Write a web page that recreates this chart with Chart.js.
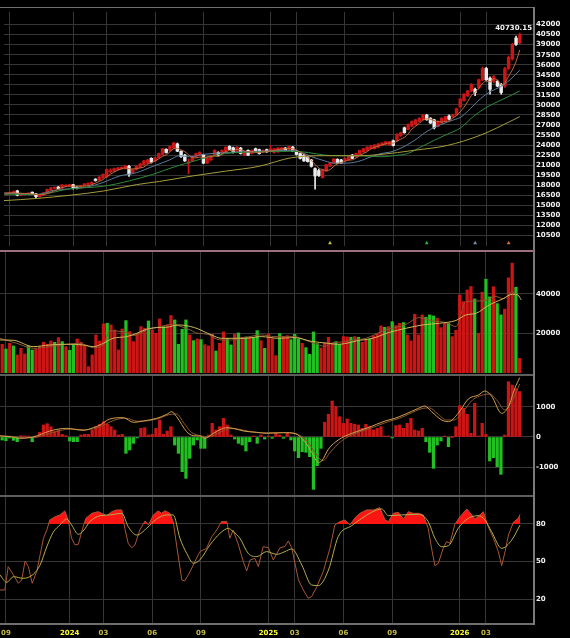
<!DOCTYPE html>
<html><head><meta charset="utf-8">
<script src="https://cdn.jsdelivr.net/npm/chart.js@4.4.1/dist/chart.umd.min.js"></script>
<style>
html,body{margin:0;padding:0;background:#000;}
body{width:570px;height:638px;position:relative;overflow:hidden;}
canvas{position:absolute;left:0;}
.sep{position:absolute;left:0;width:534px;}
</style></head><body>
<canvas id="c1" width="570" height="242" style="top:8px"></canvas>
<canvas id="c2" width="570" height="121" style="top:252px"></canvas>
<canvas id="c3" width="570" height="119" style="top:376px"></canvas>
<canvas id="c4" width="570" height="141" style="top:497px"></canvas>
<div class="sep" style="top:7px;height:1px;background:#6e6e6e"></div>
<div class="sep" style="top:250px;height:2px;background:#9c7080"></div>
<div class="sep" style="top:374px;height:2px;background:#5e5e5e"></div>
<div class="sep" style="top:495px;height:2px;background:#5e5e5e"></div>
<div class="sep" style="top:623px;height:2px;background:#6e6e6e"></div>
<div style="position:absolute;left:533px;top:7px;width:1.5px;height:618px;background:#7a7a7a"></div>
<script>
// ---- time axis (weekly bars, index k) ----
const gridK = [1, 18, 27, 40, 53, 71, 78, 91, 104, 122, 129];
const monthLabels = ['09','2024','03','06','09','2025','03','06','09','2026','03'];

// ---- weekly OHLC ----
const open = [16650,16800,16840,17150,16500,16620,16680,16950,16700,16280,
16480,16840,17250,17560,17720,17560,17850,17870,18080,17700,
17600,17900,18100,18180,18900,18750,19140,19230,20000,20100,
20340,20430,20480,20820,19860,20340,20670,21050,21300,22010,
21630,22110,22590,23360,23210,23550,24170,23070,22490,21300,
21630,22250,22490,22490,21290,21770,22490,22880,22730,22970,
23790,23600,22970,23550,22490,23210,22730,23450,23310,22970,
23310,23070,22880,22970,23210,23550,23210,23690,23070,22730,
22490,22200,21770,20480,20190,19140,20100,20820,21300,21870,
21770,21630,21770,22490,22250,22590,22970,23210,23450,23450,
23690,23930,24120,24030,24650,24650,25370,26570,26330,26810,
27050,27530,27770,28480,28000,27770,26810,27290,27530,28340,
28250,28480,29680,30640,31360,32080,32320,32560,33760,35430,
34000,33520,33520,33040,32800,35430,36870,39990,39270];
const high = [16900,16950,17150,17250,16800,16760,16850,17000,16750,16550,
16900,17400,17650,17720,17800,18080,18080,18150,18120,17800,
18000,18250,18350,18500,18980,19300,19700,20400,20450,20550,
20650,20750,21000,20950,20400,20900,21250,21700,21850,22100,
22200,22800,23500,23450,23850,24420,24300,23150,22600,21900,
22300,22800,23000,22600,22100,22450,23300,23000,23300,23750,
23900,23700,23750,23650,23050,23300,23300,23550,23400,23300,
23400,23930,23500,23600,23650,23650,23850,23800,23150,22800,
22600,22300,21850,20600,20400,20400,21100,21350,22000,21950,
21850,22100,22300,22600,22800,23250,23500,23750,23950,24050,
24200,24350,24550,24550,24750,25700,25950,26700,27150,27600,
27850,28100,28550,28600,28100,27850,27600,28100,28300,28500,
28600,29500,30950,31700,32200,33200,32500,33850,35670,35600,
34200,34400,33700,33200,35600,37300,39200,40300,40730.15];
const low = [16550,16700,16780,16400,16450,16550,16600,16700,16100,16200,
16450,16800,17200,17450,17450,17500,17800,17800,17400,17450,
17550,17850,18050,18100,18600,18700,19050,19200,19800,20050,
20250,20400,20400,19300,19800,20250,20600,21000,21200,21300,
21550,22050,22500,22800,23100,23450,23000,22150,21550,19700,
21550,22150,22400,21200,21200,21700,22400,22400,22650,22900,
23300,22800,22900,22650,22400,22400,22650,23000,22650,22900,
22900,23000,22800,22900,23150,23100,23150,23000,22500,21900,
21550,21450,20700,17400,19300,19050,20050,20750,21250,21200,
21200,21550,21700,21950,22200,22500,22900,23150,23400,23400,
23600,23850,24050,23950,23850,24550,25300,25750,26250,26700,
26950,27450,27700,27700,27200,26400,26700,27200,27450,27800,
28150,28400,29600,30550,31250,31950,31360,32400,33600,33600,
31600,33300,32700,31600,32600,35300,36700,38900,39100];
const close = [16800,16840,17050,16500,16740,16680,16760,16720,16280,16480,
16840,17360,17600,17650,17500,18050,18000,18080,17600,17550,
17940,18180,18280,18420,18700,19230,19620,20340,20200,20480,
20580,20670,20910,19620,20340,20820,21150,21630,21770,21440,
22110,22730,23450,22880,23790,24320,23070,22250,21630,21500,
22250,22730,22880,21290,22010,22400,23210,22490,23210,23690,
23360,22880,23690,22730,22970,22490,23210,23070,22730,23210,
22970,23450,23450,23550,23550,23210,23790,23070,22590,22010,
21630,21530,20820,19380,19450,20340,21060,21300,21920,21300,
21300,22010,22250,22010,22730,23210,23450,23690,23930,24030,
24170,24310,24500,24500,23930,25600,25850,25850,27050,27530,
27770,28000,28480,27770,27290,26570,27530,28000,28250,27860,
28480,29440,30880,31600,32080,33040,31840,33760,35430,33760,
32320,34240,32800,31840,35430,37110,39030,39030,40500];

// moving averages: [k, value]
const ma13Pts = [[-0.6,16840],[8.3,16600],[12.7,17220],[17.2,17460],[21.6,17700],[26.1,18420],[30.5,19380],[35,19860],[39.4,20815],[43.9,21770],[46.5,22400],[49.2,22250],[53,22600],[59,22880],[67.9,23070],[76.7,23210],[79.4,22880],[82.1,22250],[85.6,21630],[88.3,21290],[91,21290],[94.5,21530],[98.1,22250],[100.7,22730],[103.4,22970],[106.1,23550],[109.6,24650],[113.2,26090],[116.8,27050],[120.3,27770],[122.1,28150],[123.9,29000],[127.4,30900],[130.1,32000],[132.7,32660],[135.4,33760],[138,35190]];
const ma26Pts = [[-0.6,16650],[8.3,16600],[17.2,17460],[26.1,17840],[33.2,18660],[39.4,19620],[45.6,20815],[50.1,21530],[54.5,22250],[59,22730],[67.9,22970],[76.7,23070],[81.2,22880],[85.6,22490],[90.1,22400],[94.5,22400],[100.7,22250],[105.2,22490],[107.9,22730],[111.4,23700],[115,24700],[118.5,25610],[122.1,26570],[125.6,28300],[129.2,29680],[132.7,30640],[135.4,31360],[138,32080]];
const ma52Pts = [[-0.6,15690],[8.3,16020],[17.2,16500],[26.1,17125],[35,18080],[41.2,18560],[50.1,19380],[59,20100],[67.9,20815],[76.7,22110],[85.6,22400],[94.5,22400],[100.7,22590],[109.6,23210],[118.5,23930],[127.4,25460],[131.9,26570],[138,28245]];
const markPts = [[87,'#c8c040'],[113,'#30b030'],[126,'#7090b0'],[135,'#d07030']];

// ---- volume ----
const volume = [14490,12120,14980,13640,9090,12460,9600,13640,11620,12120,
13300,15490,14490,16160,15490,17850,15830,13300,11450,14140,
17170,15490,13800,3200,9090,19190,16160,24745,25080,24240,
21715,11620,22220,26430,20870,15830,20030,23400,22560,26260,
21715,20030,27270,23400,24240,28960,26765,14490,22060,26765,
19190,16330,17170,16830,14310,13640,19530,11110,14980,20700,
17510,14140,19530,20200,18010,18180,18010,17850,21380,16330,
12460,19700,17340,8750,19870,18350,18850,16830,19530,17170,
14980,12790,9430,20700,14820,12630,15150,18010,15150,15830,
14490,18350,18180,18010,18350,18030,15500,16665,17170,18685,
19700,23735,23060,23400,25900,23900,25080,25420,19190,16160,
29640,19190,29290,28130,29290,28790,27620,22880,25080,25080,
18350,21550,39390,36010,41900,43600,37370,20030,40740,47300,
38400,43500,35000,29290,32200,48000,55400,43270,7410];
const volDir = 'rgrgrrrggr'+'rrrrgrgrgg'+'rrrrrrrrgr'+'rrrgrrrrrg'+'rrrgrrgggg'+'rgrgrrrgrr'+'ggrgrgrggr'+'grrrgrrggg'+'rggggrrrrg'+'grrgrgrrgr'+'rrgrgrrgrr'+'rrrgggrrrg'+'rrrrrrgrrg'+'grggrrrgr';
const volMaSlow = [[-0.6,16665],[3,16500],[8.3,13300],[12.7,14140],[17.2,14500],[21.6,14140],[24.3,13300],[27,14980],[29.6,17510],[33.2,18350],[35.9,20030],[38.5,22060],[41.2,22900],[43.9,23070],[46.9,24240],[51.3,22900],[55.8,19190],[58.4,17510],[64.7,17510],[69.1,18350],[73.6,17510],[78,17850],[82.4,15990],[86.9,14980],[89.5,14480],[93.1,15490],[94.4,16160],[98.8,17500],[103.2,20470],[107.7,22560],[112.1,24240],[116.6,25080],[121,26500],[123.7,29300],[126.4,30130],[129.9,34340],[133.5,37370],[136.1,39730],[137.5,39390],[138.4,36870]];
const volMaFast = [[-0.6,17500],[3.9,14980],[8.3,12460],[12.7,13300],[17.2,14480],[20.7,14980],[24.3,12800],[27,14140],[28.7,21210],[32.3,20870],[35,18860],[38.5,21715],[42.1,23400],[45.6,24570],[46.9,23900],[49.5,22230],[52.2,20030],[54.9,19530],[56.7,17510],[58.4,16665],[61.1,16665],[64.7,17850],[69.1,19190],[72.7,18350],[75.3,18350],[78,18350],[80.7,16665],[84.2,14310],[86,13470],[87.8,14980],[91.3,15820],[94,16665],[97,17500],[101.5,21210],[107.7,24580],[111.2,27950],[114.8,26260],[118.4,25420],[121,23400],[123.7,36010],[128.1,36350],[131.7,38560],[133.5,37500],[136.1,40760],[137.9,38560]];

// ---- MACD ----
const macdHist = [-99,-121,-20,-110,-154,44,33,10,-154,5,
154,396,440,341,176,231,88,44,-132,-154,
-154,66,88,88,231,341,418,506,418,341,
231,66,88,-539,-429,-209,-22,286,308,66,
88,286,561,88,198,341,-264,-539,-1144,-1364,
-704,-264,-99,-374,-374,66,451,231,341,616,
396,66,-66,-209,-264,-462,-154,33,-209,66,
-66,22,-44,121,66,-44,154,-99,-462,-682,
-484,-506,-649,-1727,-946,-374,484,748,1188,1001,
671,451,594,451,418,396,286,418,341,231,
286,341,33,33,-22,374,396,286,451,616,
231,198,286,-154,-506,-1034,-264,-132,11,-319,
0,341,1034,946,748,121,1111,33,451,88,
-792,-682,-979,-1232,66,1826,1716,1600,1500];
const difPts = [[-0.6,33],[2.1,10],[4.7,-44],[7.4,-20],[9.2,33],[12.7,198],[17.2,286],[21.6,220],[24.3,308],[26.1,396],[28.7,594],[32.3,638],[35,484],[37.6,528],[41.2,616],[43.9,748],[45.2,836],[46.5,671],[49.2,176],[51,44],[52.7,33],[54.1,-44],[56.3,121],[59.9,308],[61.6,286],[64.3,198],[67.9,154],[70.5,121],[75,140],[78.1,110],[80.7,-154],[82.5,-500],[84.3,-836],[85.2,-790],[87,-400],[89.6,-99],[93.2,120],[97.6,308],[102.1,528],[104.7,616],[107.4,748],[111,946],[112.7,1023],[114.5,836],[117.2,561],[119,506],[121.6,781],[124.3,1254],[127,1386],[128.7,1518],[130.5,1353],[133.2,781],[135,1001],[136.7,1606],[138,1958]];
const deaPts = [[-0.6,40],[3,15],[6,-25],[9.5,0],[13.5,150],[18,260],[22,240],[25,290],[27.5,420],[30,560],[33,620],[36,520],[39,540],[42,620],[44.5,740],[46.5,760],[48.5,450],[50.5,150],[53,40],[55,0],[57.5,120],[61,280],[63,260],[66,180],[69.5,140],[75.5,150],[79,80],[81.5,-160],[83.5,-520],[85.5,-780],[87.5,-500],[90.5,-130],[94,110],[98.5,300],[103,510],[106,620],[108.5,760],[112,940],[114,960],[116,780],[118.5,560],[120.5,560],[123,860],[125.5,1230],[128,1380],[130,1420],[132,1200],[134,900],[135.8,1150],[137.5,1600],[138,1750]];

// ---- KD ----
const kPts = [[-0.6,27.4],[0.7,27.4],[1.6,46],[3,39.4],[4.3,32.7],[5.2,35.4],[6.1,50.5],[7,46],[8,32.7],[9.2,42],[11,68.6],[11.9,75.2],[12.7,83.2],[14.1,85.8],[15.4,87.2],[16.7,90.4],[17.6,83.2],[18.5,68.6],[19.4,63.3],[20.3,63.8],[21.2,73.9],[22.3,84.5],[23.9,88.5],[25.6,89.8],[26.5,88.5],[27.9,86.6],[29.2,89.8],[30.5,91.2],[31.9,91.2],[32.7,76.5],[33.6,64.6],[34.5,61.1],[35.4,63.2],[36.7,75.2],[38.1,82.4],[39,79.2],[40.3,87.2],[41.6,90.4],[42.5,88.5],[43.4,90.6],[44.7,88.5],[45.6,81.9],[46.5,63.3],[47.9,35.4],[48.7,34.6],[50.1,42],[51.4,50],[52.7,58],[54.5,60.6],[55.9,69.9],[57.2,75.2],[58.5,81.9],[59.9,81.9],[60.7,68.6],[61.6,75.2],[63,63.3],[64.3,50],[65.2,42.5],[66.1,51.3],[67.4,52.6],[68.3,46],[69.6,62],[71,61.1],[72.3,51.3],[74.1,61.1],[75.4,62],[76.3,66.5],[77.2,61.1],[79,35.4],[80.3,27.4],[81.6,20.8],[82.5,22.1],[83.9,30],[85.6,42],[87.4,60.6],[88.7,79.2],[90.1,81.9],[91.4,83.2],[92.7,79.2],[94.1,85],[95.4,88.5],[97.2,91.2],[99,91.2],[100.7,93],[102.1,83.2],[103,81.9],[104.3,88.5],[105.6,89.3],[107,84],[108.3,89.8],[109.6,88.5],[111,88.5],[112.3,87.2],[113.6,76.5],[114.5,60.6],[115.4,46.8],[116.3,48.7],[117.6,60.6],[118.5,65.9],[119.4,64.6],[120.7,79.7],[122.1,85.8],[123.9,92],[125.2,87.2],[126.1,84],[127.4,87.2],[128.3,89.8],[129.6,77.9],[131,68.6],[132.3,58],[133.2,46.8],[134.1,58],[135,71.2],[136.3,81.3],[137.6,84.5],[138.1,87.7]];
const dPts = [[-0.6,39.4],[1.2,33.5],[3,38],[5.6,36.7],[8.3,39.9],[10.1,47.3],[11.9,61.9],[13.6,73.4],[15.4,79.2],[17.2,84],[18.5,79.2],[20.3,71.8],[21.6,74.4],[23.4,81.9],[26.1,86.6],[28.7,87.2],[31.9,88.5],[33.6,77.9],[35.9,71.2],[38.5,76.5],[41.2,84],[43.9,87.2],[45.6,87.2],[47.4,68.6],[49.2,56.6],[51,48.7],[52.7,51.3],[55.4,63.3],[58.1,72.6],[60.3,76.5],[61.6,73.9],[63.4,68.6],[65.6,56.6],[67.9,54],[70.5,58],[73.2,55.8],[75.4,58],[77.2,60.1],[79.9,47.3],[82.5,31.4],[84.3,30.9],[87,43.3],[89.6,69.9],[93.2,78.7],[95.9,84.5],[98.5,89.3],[101.2,92],[103,86.6],[106.5,87.2],[111,87.7],[113.6,81.9],[115.4,68.6],[117.2,61.9],[119,62.7],[121.6,76.5],[124.3,84.5],[127,86.6],[128.7,83.2],[130.5,73.9],[133.2,60.6],[135.9,67.3],[138.1,79.2]];

// ================= rendering =================
const XMIN = -0.587, XMAX = 141.55;
const FONT = {family:'DejaVu Sans', size:7, weight:'bold'};
const RED = '#cc1616', GREEN = '#22c022', WHITE = '#ececec', GRID = '#363636';
const pts = a => a.map(([x,y]) => ({x, y}));
const idx = a => a.map((_, i) => i);
const noPad = ax => { ax.paddingTop = 0; ax.paddingBottom = 0; ax.paddingLeft = 0; ax.paddingRight = 0; };

function xAxis(labels){
  return {
    type:'linear', min:XMIN, max:XMAX, offset:false,
    grid:{color:GRID, drawTicks:false, offset:false},
    border:{display:false},
    ticks:{display:labels, autoSkip:false, maxRotation:0, padding:6, font:FONT,
      color: c => (/^\d{4}$/.test(c.tick.label) ? '#ffff30' : '#c4bc44'),
      callback: (v, i) => monthLabels[i]},
    afterBuildTicks: ax => { ax.ticks = gridK.map(v => ({value:v})); },
    afterFit: ax => { ax.height = labels ? 15 : 0; noPad(ax); }
  };
}
function yAxis(min, max, ticks){
  return {
    type:'linear', position:'right', min, max,
    grid:{color:GRID, drawTicks:false},
    border:{display:false},
    ticks:{color:'#f2f2f2', padding:3, font:FONT, autoSkip:false, callback: v => String(v)},
    afterBuildTicks: ax => { ax.ticks = ticks.map(v => ({value:v})); },
    afterFit: ax => { ax.width = 37; noPad(ax); }
  };
}
function baseOpts(scales){
  return {animation:false, responsive:false, devicePixelRatio:1, events:[],
    layout:{padding:0},
    plugins:{legend:{display:false}, tooltip:{enabled:false}}, scales};
}
const line = (data, color, order, extra={}) => Object.assign({type:'line', data, borderColor:color,
  borderWidth:1, pointRadius:0, fill:false, cubicInterpolationMode:'monotone', order}, extra);

// ---- price panel ----
const candleCol = close.map((c, i) => c >= open[i] ? RED : WHITE);
const ma5 = close.map((c, i) => { const s = close.slice(Math.max(0, i-4), i+1); return {x:i, y:s.reduce((a,b)=>a+b,0)/s.length}; });
const priceTicks = [];
for (let v = 10500; v <= 42000; v += 1500) priceTicks.push(v);

const maxLabel = {id:'maxLabel', afterDatasetsDraw(chart){
  const {ctx, chartArea, scales:{y}} = chart;
  const hi = Math.max(...high);
  ctx.save();
  ctx.font = 'bold 7px "DejaVu Sans"';
  ctx.fillStyle = '#f2f2f2'; ctx.textAlign = 'right'; ctx.textBaseline = 'bottom';
  ctx.fillText(hi.toFixed(2), chartArea.right - 1, y.getPixelForValue(hi) - 1);
  ctx.restore();
}};

new Chart(document.getElementById('c1'), {
  type:'bar',
  data:{datasets:[
    line(pts(ma52Pts), '#a49c3c', 1),
    line(pts(ma26Pts), '#2f8a3a', 1),
    line(pts(ma13Pts), '#5a7c9c', 1),
    line(ma5, '#c06a3c', 0),
    {type:'bar', data: idx(close).map(i => ({x:i, y:[low[i], high[i]]})), backgroundColor:candleCol,
      barThickness:1, grouped:false, order:4},
    {type:'bar', data: idx(close).map(i => ({x:i, y:[open[i], close[i]]})), backgroundColor:candleCol,
      barThickness:2.8, minBarLength:1, grouped:false, order:3},
    {type:'scatter', data: markPts.map(([k]) => ({x:k, y:9350})), pointStyle:'triangle', pointRadius:2.2,
      backgroundColor: markPts.map(m => m[1]), borderWidth:0, order:0}
  ]},
  options: baseOpts({x:xAxis(false), y:yAxis(8910, 43880, priceTicks)}),
  plugins:[maxLabel]
});

// ---- volume panel ----
new Chart(document.getElementById('c2'), {
  type:'bar',
  data:{datasets:[
    line(pts(volMaSlow), '#cdb858', 0),
    line(pts(volMaFast), '#8c5632', 0),
    {type:'bar', data: volume.map((v, i) => ({x:i, y:v})), backgroundColor: volume.map((_, i) => volDir[i] === 'g' ? GREEN : RED),
      barThickness:2.6, grouped:false, order:2}
  ]},
  options: baseOpts({x:xAxis(false), y:yAxis(0, 61030, [20000, 40000])})
});

// ---- MACD panel ----
new Chart(document.getElementById('c3'), {
  type:'bar',
  data:{datasets:[
    line(pts(deaPts), '#8c5632', 1),
    line(pts(difPts), '#d2a04c', 0),
    {type:'bar', data: macdHist.map((v, i) => ({x:i, y:v})), backgroundColor: macdHist.map(v => v >= 0 ? RED : GREEN),
      barThickness:2.6, minBarLength:1, grouped:false, order:2}
  ]},
  options: baseOpts({x:xAxis(false), y:yAxis(-1914, 2013, [-1000, 0, 1000])})
});

// ---- KD panel ----
new Chart(document.getElementById('c4'), {
  type:'line',
  data:{datasets:[
    {data: pts(kPts), borderColor:'#a85634', borderWidth:1, pointRadius:0, tension:0, order:1,
      fill:{target:{value:80}, above:'#ff1414', below:'rgba(0,0,0,0)'}},
    {data: pts(dPts), borderColor:'#b4ac4c', borderWidth:1, pointRadius:0, cubicInterpolationMode:'monotone', fill:false, order:0}
  ]},
  options: baseOpts({x:xAxis(true), y:yAxis(1.1, 101.5, [20, 50, 80])})
});
</script>
</body></html>
